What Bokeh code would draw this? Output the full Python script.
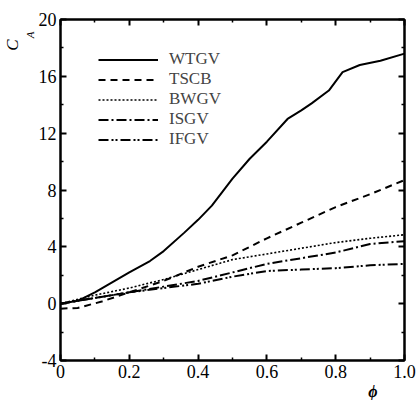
from bokeh.plotting import figure
from bokeh.models import LinearAxis, FixedTicker, Range1d, Legend, LegendItem, Title
from bokeh.embed import file_html
from bokeh.resources import INLINE

# ---- data ----
phi_wtgv = [0, 0.05, 0.1, 0.15, 0.2, 0.26, 0.3, 0.36, 0.4, 0.44, 0.5, 0.55, 0.6, 0.66, 0.7, 0.73, 0.78, 0.82, 0.87, 0.93, 1.0]
ca_wtgv = [0, 0.2, 0.8, 1.5, 2.2, 3.0, 3.7, 5.0, 5.9, 6.9, 8.8, 10.2, 11.4, 13.0, 13.6, 14.1, 15.0, 16.3, 16.8, 17.1, 17.6]

phi_tscb = [0, 0.05, 0.12, 0.2, 0.3, 0.4, 0.5, 0.6, 0.7, 0.8, 0.9, 1.0]
ca_tscb = [-0.35, -0.3, 0.15, 0.8, 1.6, 2.6, 3.4, 4.6, 5.7, 6.8, 7.7, 8.7]

phi_bwgv = [0, 0.1, 0.2, 0.3, 0.4, 0.5, 0.6, 0.7, 0.8, 0.9, 1.0]
ca_bwgv = [0, 0.6, 1.1, 1.7, 2.4, 3.1, 3.5, 3.9, 4.3, 4.6, 4.85]

phi_isgv = [0, 0.1, 0.2, 0.3, 0.4, 0.5, 0.6, 0.7, 0.8, 0.9, 1.0]
ca_isgv = [0, 0.4, 0.8, 1.2, 1.6, 2.2, 2.8, 3.2, 3.6, 4.2, 4.4]

phi_ifgv = [0, 0.1, 0.2, 0.3, 0.4, 0.5, 0.6, 0.7, 0.8, 0.9, 1.0]
ca_ifgv = [0, 0.4, 0.8, 1.1, 1.4, 1.9, 2.3, 2.4, 2.5, 2.7, 2.8]

series_names = ["WTGV", "TSCB", "BWGV", "ISGV", "IFGV"]

x_ticks = [0, 0.2, 0.4, 0.6, 0.8, 1.0]
x_minor = [0.1, 0.3, 0.5, 0.7, 0.9]
x_tick_labels = ["0", "0.2", "0.4", "0.6", "0.8", "1.0"]
y_ticks = [-4, 0, 4, 8, 12, 16, 20]
y_minor = [-2, 2, 6, 10, 14, 18]
y_tick_labels = ["-4", "0", "4", "8", "12", "16", "20"]

FONT = "Liberation Serif"

p = figure(width=418, height=400, output_backend="svg", toolbar_location=None,
           x_range=Range1d(0, 1.0), y_range=Range1d(-4, 20),
           min_border_left=59, min_border_right=14, min_border_top=19, min_border_bottom=40,
           x_axis_type=None, y_axis_type=None)
p.grid.visible = False
p.outline_line_color = "black"
p.outline_line_width = 2
p.background_fill_color = "white"
p.border_fill_color = "white"


def style_axis(ax, ticks, minor, labels):
    ax.ticker = FixedTicker(ticks=ticks, minor_ticks=minor)
    ax.axis_line_color = "black"
    ax.axis_line_width = 2
    ax.major_tick_in = 6
    ax.major_tick_out = 0
    ax.minor_tick_in = 3
    ax.minor_tick_out = 0
    ax.major_tick_line_width = 2
    ax.minor_tick_line_width = 1.5
    ax.major_label_text_font = FONT
    ax.major_label_text_font_size = "18px"
    ax.major_label_text_color = "black"
    if labels is None:
        ax.major_label_overrides = {t: "" for t in ticks}
        ax.major_label_standoff = 0
    else:
        ax.major_label_overrides = {t: s for t, s in zip(ticks, labels)}
        ax.major_label_standoff = 4


xb = LinearAxis()
style_axis(xb, x_ticks, x_minor, x_tick_labels)
p.add_layout(xb, "below")

yl = LinearAxis()
style_axis(yl, y_ticks, y_minor, y_tick_labels)
p.add_layout(yl, "left")

xt = LinearAxis()
style_axis(xt, x_ticks, x_minor, None)
p.add_layout(xt, "above")

yr = LinearAxis()
style_axis(yr, y_ticks, y_minor, None)
p.add_layout(yr, "right")

r1 = p.line(phi_wtgv, ca_wtgv, line_color="black", line_width=2)
r2 = p.line(phi_tscb, ca_tscb, line_color="black", line_width=2, line_dash="7 5")
r3 = p.line(phi_bwgv, ca_bwgv, line_color="black", line_width=1.6, line_dash="2 2")
r4 = p.line(phi_isgv, ca_isgv, line_color="black", line_width=2, line_dash="10 3 2 3")
r5 = p.line(phi_ifgv, ca_ifgv, line_color="black", line_width=2, line_dash="10 3 2 2 2 3")

legend = Legend(items=[LegendItem(label=n, renderers=[r]) for n, r in zip(series_names, [r1, r2, r3, r4, r5])],
                location=(38, 211), glyph_width=60, glyph_height=19, label_height=19,
                spacing=0, padding=0, margin=0, label_standoff=11,
                label_text_font=FONT, label_text_font_size="17px",
                border_line_color=None, background_fill_alpha=0)
p.add_layout(legend, "center")

# y-axis title C_A (subscript drawn as a second, smaller title)
p.add_layout(Title(text="A", align="right", offset=12, standoff=0,
                   text_font=FONT, text_font_style="italic", text_font_size="11px",
                   text_color="black"), "left")
p.add_layout(Title(text="C", align="right", offset=20, standoff=0,
                   text_font=FONT, text_font_style="italic", text_font_size="17px",
                   text_color="black"), "left")
# x-axis title phi
p.add_layout(Title(text="ϕ", align="right", offset=27, standoff=0,
                   text_font=FONT, text_font_style="bold italic", text_font_size="16px",
                   text_color="black"), "below")

open("out.html", "w").write(file_html(p, INLINE))
